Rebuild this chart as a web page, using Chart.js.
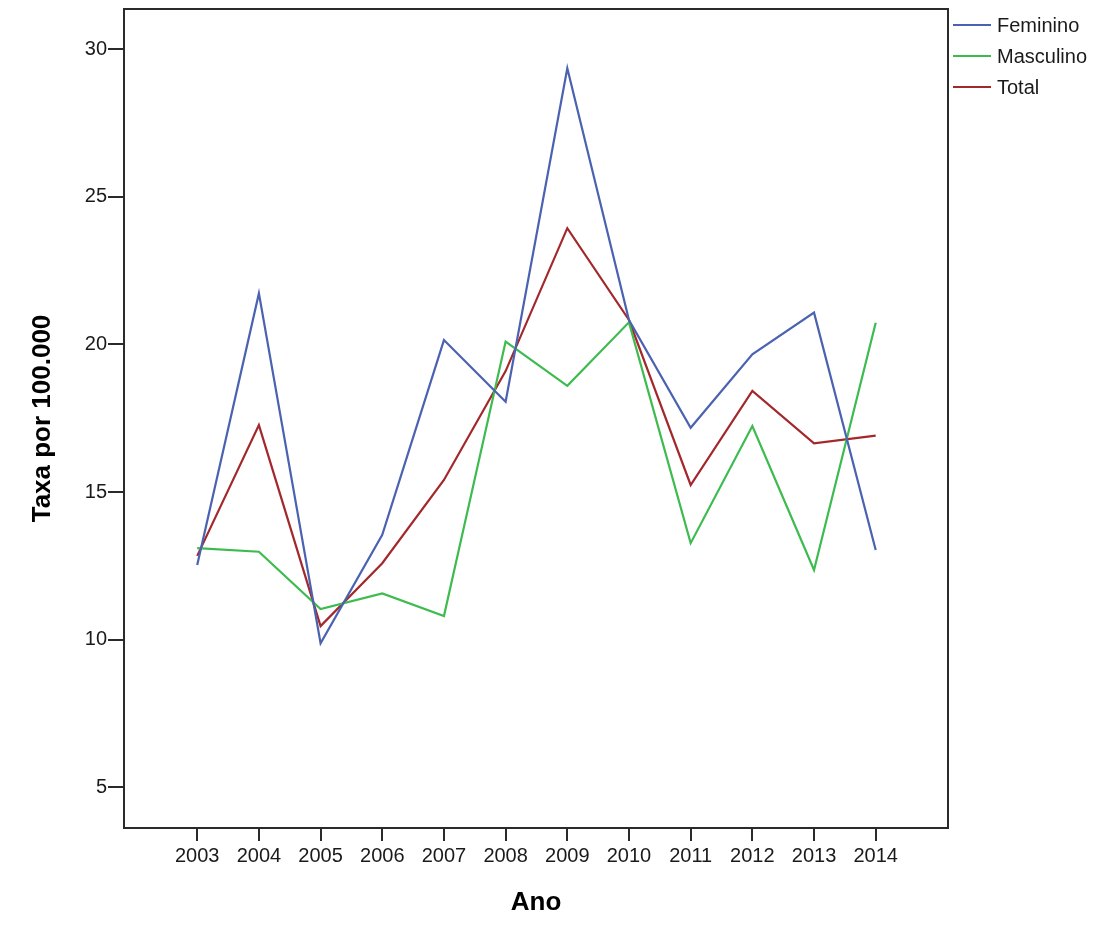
<!DOCTYPE html>
<html>
<head>
<meta charset="utf-8">
<script src="https://cdn.jsdelivr.net/npm/chart.js@4.4.1/dist/chart.umd.min.js"></script>
<style>
  html, body { margin: 0; padding: 0; background: #ffffff; }
  #wrap { width: 1100px; height: 952px; position: relative; }
</style>
</head>
<body>
<div id="wrap"><canvas id="c" width="1100" height="952"></canvas></div>
<script>
const years = [2003, 2004, 2005, 2006, 2007, 2008, 2009, 2010, 2011, 2012, 2013, 2014];
const feminino  = [12.53, 21.73, 9.88, 13.55, 20.15, 18.06, 29.36, 20.83, 17.18, 19.67, 21.08, 13.04];
const masculino = [13.10, 12.98, 11.04, 11.57, 10.80, 20.10, 18.60, 20.75, 13.27, 17.24, 12.36, 20.74];
const total     = [12.84, 17.27, 10.46, 12.59, 15.41, 19.10, 23.94, 20.83, 15.24, 18.43, 16.65, 16.91];
const yTicks = [5, 10, 15, 20, 25, 30];
const seriesNames = ['Feminino', 'Masculino', 'Total'];
const seriesColors = ['#4b62b1', '#3dbb4f', '#a3282b'];

const FONT = "'Liberation Sans', Arial, sans-serif";
const toPts = arr => years.map((yr, i) => ({ x: yr, y: arr[i] }));

const framePlugin = {
  id: 'frame',
  afterDatasetsDraw(chart) {
    const { ctx, chartArea: a } = chart;
    ctx.save();
    ctx.strokeStyle = '#2a2a2a';
    ctx.lineWidth = 2;
    ctx.strokeRect(a.left, a.top, a.right - a.left, a.bottom - a.top);
    ctx.restore();
  }
};

const legendPlugin = {
  id: 'customLegend',
  afterDraw(chart) {
    const { ctx } = chart;
    ctx.save();
    ctx.font = '20px ' + FONT;
    ctx.textBaseline = 'middle';
    ctx.fillStyle = '#1a1a1a';
    chart.data.datasets.forEach((ds, i) => {
      const y = 25 + i * 31;
      ctx.strokeStyle = ds.borderColor;
      ctx.lineWidth = 2;
      ctx.beginPath();
      ctx.moveTo(953, y);
      ctx.lineTo(991, y);
      ctx.stroke();
      ctx.fillText(ds.label, 997, y + 1);
    });
    ctx.restore();
  }
};

const datasets = [feminino, masculino, total].map((arr, i) => ({
  label: seriesNames[i],
  data: toPts(arr),
  borderColor: seriesColors[i],
  backgroundColor: seriesColors[i],
  borderWidth: 2.2,
  pointRadius: 0,
  tension: 0,
  fill: false
}));

new Chart(document.getElementById('c'), {
  type: 'line',
  data: { datasets },
  options: {
    responsive: false,
    animation: false,
    devicePixelRatio: 1,
    layout: { padding: { top: 9, right: 152, left: 0, bottom: 0 } },
    plugins: { legend: { display: false }, tooltip: { enabled: false } },
    scales: {
      x: {
        type: 'linear',
        min: 2001.813,
        max: 2015.172,
        afterBuildTicks: s => { s.ticks = years.map(v => ({ value: v })); },
        afterFit: s => { s.height = 124; s.paddingLeft = 0; s.paddingRight = 0; },
        grid: { display: true, drawOnChartArea: false, drawTicks: true, tickLength: 13, color: '#2a2a2a', lineWidth: 2 },
        border: { display: true, color: '#2a2a2a', width: 2 },
        ticks: {
          autoSkip: false, maxRotation: 0, minRotation: 0, padding: 3,
          color: '#1a1a1a', font: { family: FONT, size: 20 },
          callback: v => String(v)
        },
        title: {
          display: true, text: 'Ano', color: '#000',
          font: { family: FONT, size: 26, weight: 'bold' },
          padding: { top: 0, bottom: 33.4 }
        }
      },
      y: {
        type: 'linear',
        min: 3.621,
        max: 31.365,
        afterBuildTicks: s => { s.ticks = yTicks.map(v => ({ value: v })); },
        afterFit: s => { s.width = 124; s.paddingTop = 0; s.paddingBottom = 0; },
        grid: { display: true, drawOnChartArea: false, drawTicks: true, tickLength: 16, color: '#2a2a2a', lineWidth: 2 },
        border: { display: true, color: '#2a2a2a', width: 2 },
        ticks: {
          autoSkip: false, padding: 1,
          color: '#1a1a1a', font: { family: FONT, size: 20 },
          callback: v => String(v)
        },
        title: {
          display: true, text: 'Taxa por 100.000', color: '#000',
          font: { family: FONT, size: 26, weight: 'bold' },
          padding: { top: 27.4, bottom: 0 }
        }
      }
    }
  },
  plugins: [framePlugin, legendPlugin]
});
</script>
</body>
</html>
